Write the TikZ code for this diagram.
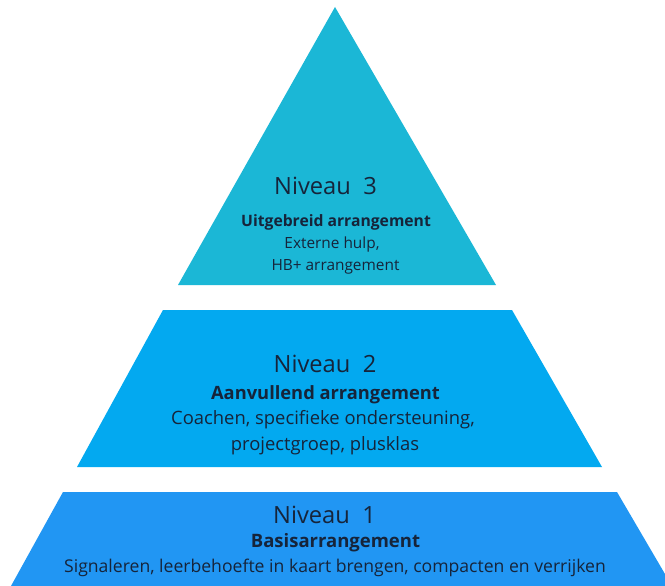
\documentclass[tikz,border=0pt]{standalone}
\usepackage{fontspec}
\setmainfont{Open Sans}
\definecolor{laag3}{RGB}{27,183,214}
\definecolor{laag2}{RGB}{3,169,240}
\definecolor{laag1}{RGB}{33,150,243}
\definecolor{inkt}{RGB}{22,36,58}

\begin{document}
\begin{tikzpicture}[x=1pt,y=-1pt,
  niveau/.style={anchor=base,text=inkt,inner sep=0pt,font=\fontsize{23.7}{26}\selectfont},
  kop/.style={anchor=base,text=inkt,inner sep=0pt,font=\fontsize{#1}{#1}\selectfont\bfseries},
  tekst/.style={anchor=base,text=inkt,inner sep=0pt,font=\fontsize{#1}{#1}\selectfont}]

\useasboundingbox (0,0) rectangle (665,586);
\fill[white] (0,0) rectangle (665,586);

% de drie lagen
\fill[laag3] (335,7) -- (496,285) -- (178,285) -- cycle;
\fill[laag2] (163,310) -- (512,310) -- (602,467) -- (77,467) -- cycle;
\fill[laag1] (63,492) -- (617,492) -- (672,586) -- (11,586) -- cycle;

% niveau 3
\node[niveau] (n3) at (325.5,194) {Niveau\ \ 3};
\node[kop=15.7] (k3) at (336,226) {Uitgebreid arrangement};
\node[tekst=15.4] (t3a) at (332,248) {Externe hulp,};
\node[tekst=15.4] (t3b) at (335.5,270) {HB+ arrangement};

% niveau 2
\node[niveau] (n2) at (325,372) {Niveau\ \ 2};
\node[kop=18.3] (k2) at (325.5,399) {Aanvullend arrangement};
\node[tekst=18.4] (t2a) at (323,424.5) {Coachen, specifieke ondersteuning,};
\node[tekst=18.4] (t2b) at (325,450) {projectgroep, plusklas};

% niveau 1
\node[niveau] (n1) at (324.5,523) {Niveau\ \ 1};
\node[kop=18.5] (k1) at (335.5,547) {Basisarrangement};
\node[tekst=17.6] (t1) at (335,572) {Signaleren, leerbehoefte in kaart brengen, compacten en verrijken};

\end{tikzpicture}
\end{document}
